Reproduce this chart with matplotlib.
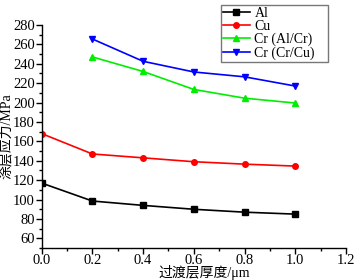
import matplotlib
matplotlib.use("Agg")
import matplotlib.pyplot as plt
from matplotlib.ticker import MultipleLocator

plt.rcParams['font.family'] = ['Liberation Serif', 'Noto Sans CJK SC']
plt.rcParams['mathtext.fontset'] = 'stix'

x_al = [0.0, 0.2, 0.4, 0.6, 0.8, 1.0]
al = [117, 98.5, 94, 90, 87, 85]
x_cu = [0.0, 0.2, 0.4, 0.6, 0.8, 1.0]
cu = [168, 147, 143, 139, 136.5, 134.5]
x_cr = [0.2, 0.4, 0.6, 0.8, 1.0]
cr_alcr = [247, 232, 213.5, 204.5, 199.5]
cr_crcu = [265.5, 242.5, 231.5, 226.5, 217]
xticks = [0.0, 0.2, 0.4, 0.6, 0.8, 1.0, 1.2]
xticklabels = ['0.0', '0.2', '0.4', '0.6', '0.8', '1.0', '1.2']
yticks = [60, 80, 100, 120, 140, 160, 180, 200, 220, 240, 260, 280]

fig = plt.figure(figsize=(3.56, 2.8), dpi=100)
ax = fig.add_axes([0.117, 0.114, 0.855, 0.797])

ax.plot(x_al, al, '-s', color='black', markersize=4, linewidth=1.2, label='Al')
ax.plot(x_cu, cu, '-o', color='red', markersize=4, linewidth=1.2, label='Cu')
ax.plot(x_cr, cr_alcr, '-^', color='#00ee00', markersize=5, linewidth=1.2, label='Cr (Al/Cr)')
ax.plot(x_cr, cr_crcu, '-v', color='blue', markersize=5, linewidth=1.2, label='Cr (Cr/Cu)')

ax.set_xlim(0, 1.2)
ax.set_ylim(50, 280)
ax.set_xticks(xticks)
ax.set_xticklabels(xticklabels)
ax.set_yticks(yticks)
ax.xaxis.set_minor_locator(MultipleLocator(0.1))
ax.yaxis.set_minor_locator(MultipleLocator(10))
ax.tick_params(axis='both', which='major', direction='out', length=4, width=1, labelsize=10.5, pad=1)
ax.tick_params(axis='x', which='major', pad=0)
ax.tick_params(axis='both', which='minor', direction='out', length=2.5, width=1)
ax.spines['top'].set_visible(False)
ax.spines['right'].set_visible(False)
for s in ['left', 'bottom']:
    ax.spines[s].set_linewidth(1)

ax.set_xlabel('过渡层厚度/μm', fontsize=10, va='center')
ax.xaxis.set_label_coords(0.533, -0.11)
ax.set_ylabel('涂层应力/MPa', fontsize=10, labelpad=0)

leg = ax.legend(loc='upper left', bbox_to_anchor=(0.621, 0.75, 0.300, 0.233),
                bbox_transform=fig.transFigure, mode='expand', fontsize=10,
                frameon=True, fancybox=False, edgecolor='#555555',
                handlelength=1.9, borderpad=0.15, labelspacing=0.0, handletextpad=0.35,
                borderaxespad=0)
leg.get_frame().set_linewidth(1)

fig.savefig('out.png', dpi=100)
